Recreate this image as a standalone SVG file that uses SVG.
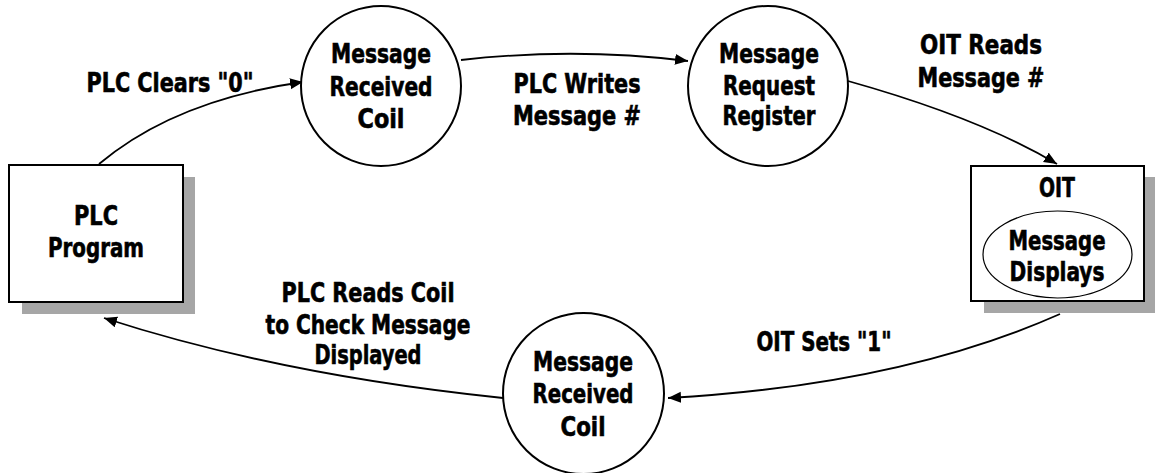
<svg xmlns="http://www.w3.org/2000/svg" width="1155" height="473" viewBox="0 0 1155 473">
<style>
text{font-family:"Liberation Sans Narrow","DejaVu Sans Condensed","Liberation Sans",sans-serif;font-weight:bold;font-size:27px;text-anchor:middle;fill:#000;stroke:#000;stroke-width:0.6}
.node{fill:#fff;stroke:#000;stroke-width:2}
.shadow{fill:#a6a6a6;stroke:none}
.conn{fill:none;stroke:#000;stroke-width:1.8;marker-end:url(#arrow)}
</style>
<defs>
<marker id="arrow" markerUnits="userSpaceOnUse" markerWidth="15" markerHeight="12" refX="13" refY="5.5" orient="auto">
<path d="M0,0 L13,5.5 L0,11 z" fill="#000"/>
</marker>
</defs>
<g id="connectors">
<path class="conn" d="M99,164 Q175,100 303,82"/>
<path class="conn" d="M461,60 Q575,47 688,61"/>
<path class="conn" d="M848,81 Q980,118 1057,164"/>
<path class="conn" d="M1060,314 Q900,385 668,398"/>
<path class="conn" d="M503,398 Q280,375 104,318"/>
</g>
<g id="plc-program">
<rect class="shadow" x="22" y="177" width="173" height="137"/>
<rect class="node" x="9" y="165" width="174" height="137"/>
<text x="96" y="225" textLength="44" lengthAdjust="spacingAndGlyphs">PLC</text>
<text x="96" y="257" textLength="96" lengthAdjust="spacingAndGlyphs">Program</text>
</g>
<g id="msg-received-coil-top">
<circle class="node" cx="381" cy="86" r="80"/>
<text x="381" y="63" textLength="100" lengthAdjust="spacingAndGlyphs">Message</text>
<text x="381" y="96" textLength="103" lengthAdjust="spacingAndGlyphs">Received</text>
<text x="381" y="128" textLength="47" lengthAdjust="spacingAndGlyphs">Coil</text>
</g>
<g id="msg-request-register">
<circle class="node" cx="768" cy="86" r="80"/>
<text x="769" y="63" textLength="100" lengthAdjust="spacingAndGlyphs">Message</text>
<text x="769" y="95" textLength="92" lengthAdjust="spacingAndGlyphs">Request</text>
<text x="769" y="125" textLength="93" lengthAdjust="spacingAndGlyphs">Register</text>
</g>
<g id="oit">
<rect class="shadow" x="984" y="177" width="171" height="136"/>
<rect class="node" x="971" y="166" width="173" height="135"/>
<text x="1057" y="197" textLength="36" lengthAdjust="spacingAndGlyphs">OIT</text>
<ellipse cx="1057.5" cy="254.5" rx="74.5" ry="43.5" fill="none" stroke="#000" stroke-width="1.2"/>
<text x="1057" y="250" textLength="97" lengthAdjust="spacingAndGlyphs">Message</text>
<text x="1057" y="281" textLength="95" lengthAdjust="spacingAndGlyphs">Displays</text>
</g>
<g id="msg-received-coil-bottom">
<circle class="node" cx="583.5" cy="393.5" r="80.5"/>
<text x="583" y="371" textLength="100" lengthAdjust="spacingAndGlyphs">Message</text>
<text x="583" y="403" textLength="101" lengthAdjust="spacingAndGlyphs">Received</text>
<text x="583" y="436" textLength="45" lengthAdjust="spacingAndGlyphs">Coil</text>
</g>
<g id="labels">
<text x="170" y="92" textLength="167" lengthAdjust="spacingAndGlyphs">PLC Clears "0"</text>
<text x="577" y="93" textLength="127" lengthAdjust="spacingAndGlyphs">PLC Writes</text>
<text x="577" y="125" textLength="128" lengthAdjust="spacingAndGlyphs">Message #</text>
<text x="981" y="54" textLength="122" lengthAdjust="spacingAndGlyphs">OIT Reads</text>
<text x="981" y="87" textLength="127" lengthAdjust="spacingAndGlyphs">Message #</text>
<text x="824" y="351" textLength="135" lengthAdjust="spacingAndGlyphs">OIT Sets "1"</text>
<text x="368" y="302" textLength="173" lengthAdjust="spacingAndGlyphs">PLC Reads Coil</text>
<text x="368" y="334" textLength="205" lengthAdjust="spacingAndGlyphs">to Check Message</text>
<text x="368" y="364" textLength="107" lengthAdjust="spacingAndGlyphs">Displayed</text>
</g>
</svg>
